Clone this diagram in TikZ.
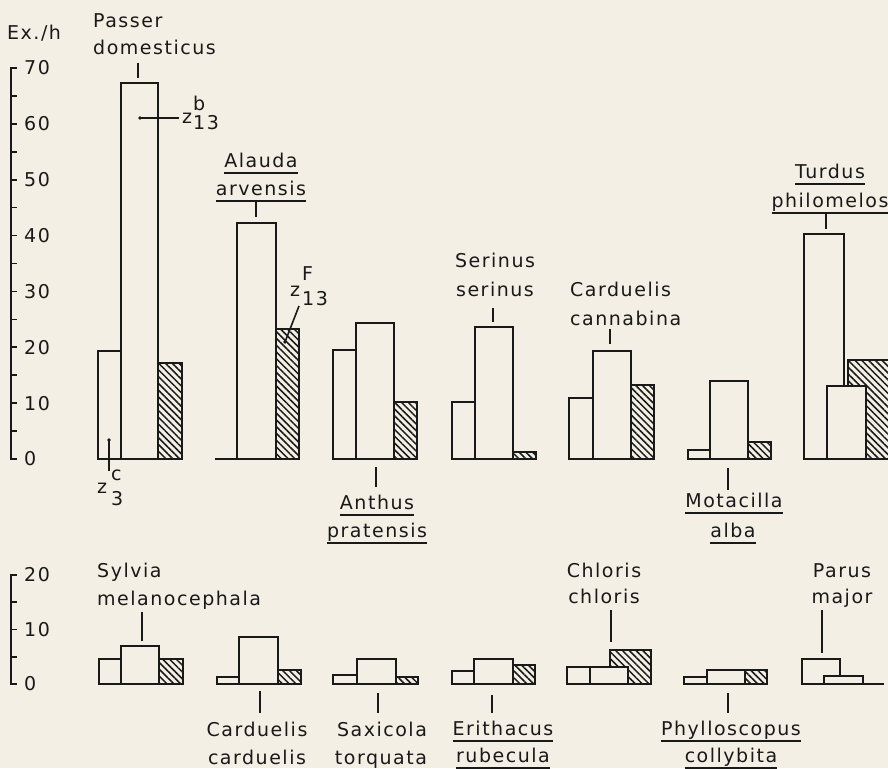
\documentclass[tikz,border=0pt]{standalone}
\usepackage{fontspec}
\setmainfont{DejaVu Sans}[LetterSpace=8]
\usetikzlibrary{patterns.meta}
\definecolor{bg}{RGB}{243,239,228}
\definecolor{ink}{RGB}{25,25,25}
\newcommand\ulword[1]{\setbox0\hbox{#1}\rlap{\rule[-6.5pt]{\wd0}{1.6pt}}\box0}
\newcommand\wbar[3]{\draw[barst] (#1,\basey) rectangle (#2,#3);}
\newcommand\hbarr[3]{\draw[hatchst] (#1,\basey) rectangle (#2,#3);}
\begin{document}
\begin{tikzpicture}[x=1pt,y=-1pt]
\tikzset{
 barst/.style={draw=ink,line width=1.8pt,fill=bg},
 hatchst/.style={draw=ink,line width=1.8pt,pattern={Lines[angle=-45,distance=4.8pt,line width=1.5pt]},pattern color=ink},
 lbl/.style={inner sep=0pt,font=\fontsize{19}{23}\selectfont,text=ink},
 axis/.style={draw=ink,line width=1.6pt},
 lead/.style={draw=ink,line width=1.6pt},
}
\useasboundingbox (0,0) rectangle (888,768);
\fill[bg] (0,0) rectangle (888,768);
\clip (0,0) rectangle (888,768);

% ---------- top axis ----------
\draw[axis] (17,68) -- (11,68) -- (11,459) -- (17,459);
\foreach \v in {5,10,...,65} \draw[axis] (11,{459-5.586*\v}) -- (17,{459-5.586*\v});
\foreach \v in {0,10,...,70} \node[lbl,anchor=west] (ty\v) at (24,{459-5.586*\v}) {\v};
\node[lbl,anchor=base west] (unit) at (7,40) {Ex./h};

% ---------- bottom axis ----------
\draw[axis] (17,575) -- (11,575) -- (11,684) -- (17,684);
\foreach \v in {5,10,15} \draw[axis] (11,{684-5.45*\v}) -- (17,{684-5.45*\v});
\foreach \v in {0,10,20} \node[lbl,anchor=west] (by\v) at (24,{684-5.45*\v}) {\v};

% ---------- top bars ----------
\def\basey{459}
% Passer domesticus
\wbar{98}{121}{351}
\wbar{121}{158}{83}
\hbarr{158}{182}{363}
% Alauda arvensis
\draw[axis] (215,459) -- (237,459);
\wbar{237}{276}{223}
\hbarr{276}{299}{329}
% Anthus pratensis
\wbar{333}{356}{350}
\wbar{356}{394}{323}
\hbarr{394}{417}{402}
% Serinus serinus
\wbar{452}{475}{402}
\wbar{475}{513}{327}
\hbarr{513}{536}{452}
% Carduelis cannabina
\wbar{569}{593}{398}
\wbar{593}{631}{351}
\hbarr{631}{654}{385}
% Motacilla alba
\wbar{688}{710}{450}
\wbar{710}{748}{381}
\hbarr{748}{771}{442}
% Turdus philomelos
\wbar{804}{844}{234}
\hbarr{848}{895}{360}
\wbar{827}{866}{386}

% ---------- bottom bars ----------
\def\basey{684}
% Sylvia melanocephala
\wbar{99}{121}{659}
\wbar{121}{159}{646}
\hbarr{159}{183}{659}
% Carduelis carduelis
\wbar{217}{239}{677}
\wbar{239}{278}{637}
\hbarr{278}{301}{670}
% Saxicola torquata
\wbar{333}{357}{675}
\wbar{357}{396}{659}
\hbarr{396}{418}{677}
% Erithacus rubecula
\wbar{452}{474}{671}
\wbar{474}{513}{659}
\hbarr{513}{535}{665}
% Chloris chloris
\wbar{567}{590}{667}
\hbarr{610}{651}{650}
\wbar{590}{628}{667}
% Phylloscopus collybita
\wbar{684}{707}{677}
\wbar{707}{745}{670}
\hbarr{745}{767}{670}
% Parus major
\wbar{802}{840}{659}
\wbar{824}{863}{676}
\draw[axis] (863,684) -- (884,684);

% ---------- top labels ----------
\node[lbl,anchor=base west] (pas1) at (93,28) {Passer};
\node[lbl,anchor=base west] (pas2) at (93,55) {domesticus};
\draw[lead] (138,63) -- (138,78);

\node[lbl,anchor=base] (ala1) at (261,167) {\ulword{Alauda}};
\node[lbl,anchor=base] (ala2) at (261,195) {\ulword{arvensis}};
\draw[lead] (256,202) -- (256,217);

\node[lbl,anchor=base] (ant1) at (377,509) {\ulword{Anthus}};
\node[lbl,anchor=base] (ant2) at (377,537) {\ulword{pratensis}};
\draw[lead] (376,467) -- (376,487);

\node[lbl,anchor=base] (ser1) at (495,267) {Serinus};
\node[lbl,anchor=base] (ser2) at (495,296) {serinus};
\draw[lead] (493,308) -- (493,322);

\node[lbl,anchor=base west] (can1) at (570,296) {Carduelis};
\node[lbl,anchor=base west] (can2) at (570,325) {cannabina};
\draw[lead] (610,329) -- (610,344);

\node[lbl,anchor=base] (mot1) at (734,507) {\ulword{Motacilla}};
\node[lbl,anchor=base] (mot2) at (733,537) {\ulword{alba}};
\draw[lead] (728,468) -- (728,490);

\node[lbl,anchor=base] (tur1) at (830,178) {\ulword{Turdus}};
\node[lbl,anchor=base] (tur2) at (830,207) {\ulword{philomelos}};
\draw[lead] (826,214) -- (826,229);

% z labels
\coordinate (dotb) at (140,118);
\coordinate (endb) at (179,118);
\fill[ink] (dotb) circle (1.9);
\draw[lead] (dotb) -- (endb);
\node[lbl,anchor=base] (zb) at (187,123) {z};
\node[lbl,anchor=base west] (zbsup) at (193,110) {b};
\node[lbl,anchor=base west] (zbsub) at (193,129) {13};

\coordinate (dotf) at (285,342);
\coordinate (endf) at (299,306);
\fill[ink] (dotf) circle (1.9);
\draw[lead] (dotf) -- (endf);
\node[lbl,anchor=base] (zf) at (295,296) {z};
\node[lbl,anchor=base west] (zfsup) at (302,280) {F};
\node[lbl,anchor=base west] (zfsub) at (302,305) {13};

\coordinate (dotc) at (109,440);
\coordinate (endc) at (109,471);
\fill[ink] (dotc) circle (1.9);
\draw[lead] (dotc) -- (endc);
\node[lbl,anchor=base] (zc) at (102,493) {z};
\node[lbl,anchor=base west] (zcsup) at (111,480) {c};
\node[lbl,anchor=base west] (zcsub) at (111,505) {3};

% ---------- bottom labels ----------
\node[lbl,anchor=base west] (syl1) at (97,577) {Sylvia};
\node[lbl,anchor=base west] (syl2) at (97,605) {melanocephala};
\draw[lead] (142,612) -- (142,641);

\node[lbl,anchor=base] (car1) at (257,736) {Carduelis};
\node[lbl,anchor=base] (car2) at (257,764) {carduelis};
\draw[lead] (260,691) -- (260,713);

\node[lbl,anchor=base] (sax1) at (382,736) {Saxicola};
\node[lbl,anchor=base] (sax2) at (381,764) {torquata};
\draw[lead] (378,693) -- (378,713);

\node[lbl,anchor=base] (eri1) at (503,735) {\ulword{Erithacus}};
\node[lbl,anchor=base] (eri2) at (503,762) {\ulword{rubecula}};
\draw[lead] (492,695) -- (492,713);

\node[lbl,anchor=base] (chl1) at (604,577) {Chloris};
\node[lbl,anchor=base] (chl2) at (604,603) {chloris};
\draw[lead] (611,610) -- (611,642);

\node[lbl,anchor=base] (phy1) at (731,735) {\ulword{Phylloscopus}};
\node[lbl,anchor=base] (phy2) at (731,762) {\ulword{collybita}};
\draw[lead] (728,693) -- (728,713);

\node[lbl,anchor=base] (par1) at (842,577) {Parus};
\node[lbl,anchor=base] (par2) at (842,603) {major};
\draw[lead] (822,610) -- (822,653);
\end{tikzpicture}
\end{document}
